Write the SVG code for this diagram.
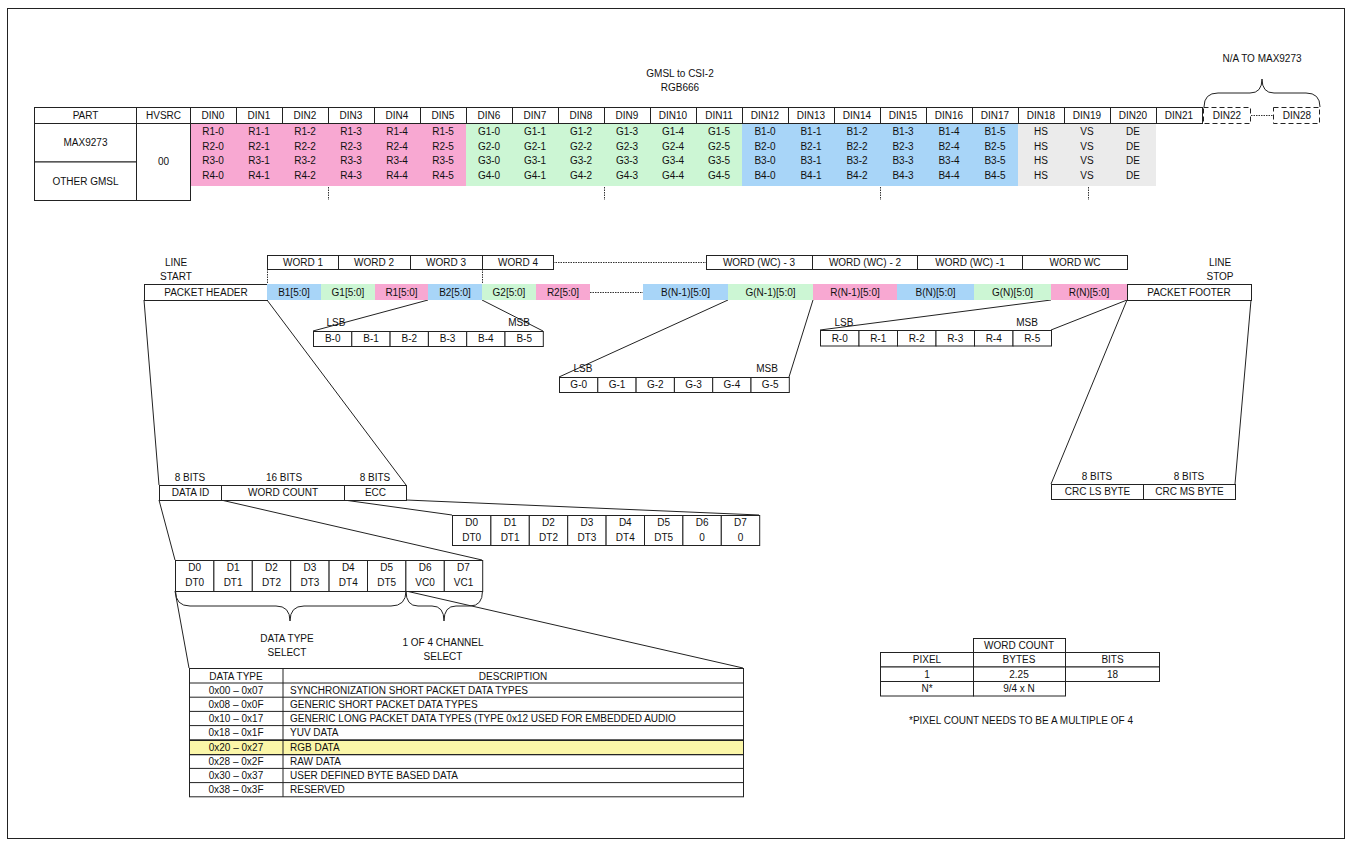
<svg xmlns="http://www.w3.org/2000/svg" width="1352" height="846" viewBox="0 0 1352 846">
<style>
text{font-family:"Liberation Sans",Arial,sans-serif;font-size:10px;fill:#111;text-anchor:middle}
.l{text-anchor:start}
.c{fill:#fff;stroke:#222;stroke-width:1}
.n{fill:none;stroke:#222;stroke-width:1}
.d{fill:none;stroke:#333;stroke-width:1;stroke-dasharray:1.5 1}
.dash{fill:#fff;stroke:#222;stroke-width:1;stroke-dasharray:5 3}
.pk{fill:#F8A8D2}.gr{fill:#CCF6D4}.bl{fill:#A8D5F8}.gy{fill:#EBEBEB}.ye{fill:#FBF6A8;stroke:#222}
</style>
<rect x="7.5" y="8.5" width="1337" height="830" class="n"/>

<g id="title">
<text x="680" y="76.6">GMSL to CSI-2</text>
<text x="680" y="90.6">RGB666</text>
<text x="1262" y="61.6">N/A TO MAX9273</text>
<path class="n" d="M1204,107 Q1204,93 1218,93 L1250,93 Q1262,93 1262,79 Q1262,93 1274,93 L1306,93 Q1320,93 1320,107"/>
</g>

<g id="din-table">
<rect class="pk" x="190" y="123" width="276" height="63"/>
<rect class="gr" x="466" y="123" width="276" height="63"/>
<rect class="bl" x="742" y="123" width="276" height="63"/>
<rect class="gy" x="1018" y="123" width="138" height="63"/>
<rect class="c" x="34.5" y="107.5" width="102" height="16"/>
<rect class="c" x="136.5" y="107.5" width="54" height="16"/>
<rect class="c" x="190.5" y="107.5" width="46" height="16"/><rect class="c" x="236.5" y="107.5" width="46" height="16"/>
<rect class="c" x="282.5" y="107.5" width="46" height="16"/><rect class="c" x="328.5" y="107.5" width="46" height="16"/>
<rect class="c" x="374.5" y="107.5" width="46" height="16"/><rect class="c" x="420.5" y="107.5" width="46" height="16"/>
<rect class="c" x="466.5" y="107.5" width="46" height="16"/><rect class="c" x="512.5" y="107.5" width="46" height="16"/>
<rect class="c" x="558.5" y="107.5" width="46" height="16"/><rect class="c" x="604.5" y="107.5" width="46" height="16"/>
<rect class="c" x="650.5" y="107.5" width="46" height="16"/><rect class="c" x="696.5" y="107.5" width="46" height="16"/>
<rect class="c" x="742.5" y="107.5" width="46" height="16"/><rect class="c" x="788.5" y="107.5" width="46" height="16"/>
<rect class="c" x="834.5" y="107.5" width="46" height="16"/><rect class="c" x="880.5" y="107.5" width="46" height="16"/>
<rect class="c" x="926.5" y="107.5" width="46" height="16"/><rect class="c" x="972.5" y="107.5" width="46" height="16"/>
<rect class="c" x="1018.5" y="107.5" width="46" height="16"/><rect class="c" x="1064.5" y="107.5" width="46" height="16"/>
<rect class="c" x="1110.5" y="107.5" width="46" height="16"/><rect class="c" x="1156.5" y="107.5" width="46" height="16"/>
<rect class="dash" x="1203.5" y="107.5" width="47" height="16"/>
<rect class="dash" x="1273.5" y="107.5" width="46" height="16"/>
<path class="d" d="M1251,115.5 H1273"/>
<rect class="c" x="34.5" y="123.5" width="102" height="38.5"/>
<rect class="c" x="34.5" y="162" width="102" height="38.5"/>
<rect class="n" x="136.5" y="123.5" width="54" height="77"/>
<path class="d" d="M328.5,187 V200 M604.5,187 V200 M880.5,187 V200 M1088.5,187 V200"/>
<text x="85.5" y="118.6">PART</text><text x="163.5" y="118.6">HVSRC</text>
<text x="213" y="118.6">DIN0</text><text x="259" y="118.6">DIN1</text><text x="305" y="118.6">DIN2</text><text x="351" y="118.6">DIN3</text><text x="397" y="118.6">DIN4</text><text x="443" y="118.6">DIN5</text>
<text x="489" y="118.6">DIN6</text><text x="535" y="118.6">DIN7</text><text x="581" y="118.6">DIN8</text><text x="627" y="118.6">DIN9</text><text x="673" y="118.6">DIN10</text><text x="719" y="118.6">DIN11</text>
<text x="765" y="118.6">DIN12</text><text x="811" y="118.6">DIN13</text><text x="857" y="118.6">DIN14</text><text x="903" y="118.6">DIN15</text><text x="949" y="118.6">DIN16</text><text x="995" y="118.6">DIN17</text>
<text x="1041" y="118.6">DIN18</text><text x="1087" y="118.6">DIN19</text><text x="1133" y="118.6">DIN20</text><text x="1179" y="118.6">DIN21</text><text x="1227" y="118.6">DIN22</text><text x="1297" y="118.6">DIN28</text>
<text x="85.5" y="145.6">MAX9273</text><text x="85.5" y="184.6">OTHER GMSL</text><text x="163.5" y="164.6">00</text>
<text x="213" y="134.6">R1-0</text><text x="259" y="134.6">R1-1</text><text x="305" y="134.6">R1-2</text><text x="351" y="134.6">R1-3</text><text x="397" y="134.6">R1-4</text><text x="443" y="134.6">R1-5</text>
<text x="489" y="134.6">G1-0</text><text x="535" y="134.6">G1-1</text><text x="581" y="134.6">G1-2</text><text x="627" y="134.6">G1-3</text><text x="673" y="134.6">G1-4</text><text x="719" y="134.6">G1-5</text>
<text x="765" y="134.6">B1-0</text><text x="811" y="134.6">B1-1</text><text x="857" y="134.6">B1-2</text><text x="903" y="134.6">B1-3</text><text x="949" y="134.6">B1-4</text><text x="995" y="134.6">B1-5</text>
<text x="1041" y="134.6">HS</text><text x="1087" y="134.6">VS</text><text x="1133" y="134.6">DE</text>
<text x="213" y="149.6">R2-0</text><text x="259" y="149.6">R2-1</text><text x="305" y="149.6">R2-2</text><text x="351" y="149.6">R2-3</text><text x="397" y="149.6">R2-4</text><text x="443" y="149.6">R2-5</text>
<text x="489" y="149.6">G2-0</text><text x="535" y="149.6">G2-1</text><text x="581" y="149.6">G2-2</text><text x="627" y="149.6">G2-3</text><text x="673" y="149.6">G2-4</text><text x="719" y="149.6">G2-5</text>
<text x="765" y="149.6">B2-0</text><text x="811" y="149.6">B2-1</text><text x="857" y="149.6">B2-2</text><text x="903" y="149.6">B2-3</text><text x="949" y="149.6">B2-4</text><text x="995" y="149.6">B2-5</text>
<text x="1041" y="149.6">HS</text><text x="1087" y="149.6">VS</text><text x="1133" y="149.6">DE</text>
<text x="213" y="164.2">R3-0</text><text x="259" y="164.2">R3-1</text><text x="305" y="164.2">R3-2</text><text x="351" y="164.2">R3-3</text><text x="397" y="164.2">R3-4</text><text x="443" y="164.2">R3-5</text>
<text x="489" y="164.2">G3-0</text><text x="535" y="164.2">G3-1</text><text x="581" y="164.2">G3-2</text><text x="627" y="164.2">G3-3</text><text x="673" y="164.2">G3-4</text><text x="719" y="164.2">G3-5</text>
<text x="765" y="164.2">B3-0</text><text x="811" y="164.2">B3-1</text><text x="857" y="164.2">B3-2</text><text x="903" y="164.2">B3-3</text><text x="949" y="164.2">B3-4</text><text x="995" y="164.2">B3-5</text>
<text x="1041" y="164.2">HS</text><text x="1087" y="164.2">VS</text><text x="1133" y="164.2">DE</text>
<text x="213" y="178.6">R4-0</text><text x="259" y="178.6">R4-1</text><text x="305" y="178.6">R4-2</text><text x="351" y="178.6">R4-3</text><text x="397" y="178.6">R4-4</text><text x="443" y="178.6">R4-5</text>
<text x="489" y="178.6">G4-0</text><text x="535" y="178.6">G4-1</text><text x="581" y="178.6">G4-2</text><text x="627" y="178.6">G4-3</text><text x="673" y="178.6">G4-4</text><text x="719" y="178.6">G4-5</text>
<text x="765" y="178.6">B4-0</text><text x="811" y="178.6">B4-1</text><text x="857" y="178.6">B4-2</text><text x="903" y="178.6">B4-3</text><text x="949" y="178.6">B4-4</text><text x="995" y="178.6">B4-5</text>
<text x="1041" y="178.6">HS</text><text x="1087" y="178.6">VS</text><text x="1133" y="178.6">DE</text>
</g>

<g id="connectors">
<path class="d" d="M553,262.5 H706 M267.5,269 V284 M482.5,269 V284 M590,292.5 H643"/>
<path class="n" d="M428,300 L313,331 M482,300 L543,331"/>
<path class="n" d="M728,300 L559,377 M813,300 L789,377"/>
<path class="n" d="M1051,300 L820,330 M1127,300 L1051,330"/>
<path class="n" d="M144,300 L159,485 M267,300 L406,485"/>
<path class="n" d="M1127,300 L1051,484 M1251,300 L1235,484"/>
<path class="n" d="M344,500 L452,515 M406,500 L759,515"/>
<path class="n" d="M159,500 L175,560 M221,500 L482,560"/>
<path class="n" d="M175,591 L189,668 M406,591 L743,668"/>
</g>

<g id="words">
<rect class="c" x="267.5" y="255.5" width="71" height="14"/><text x="303" y="265.6">WORD 1</text>
<rect class="c" x="338.5" y="255.5" width="72" height="14"/><text x="374" y="265.6">WORD 2</text>
<rect class="c" x="410.5" y="255.5" width="72" height="14"/><text x="446" y="265.6">WORD 3</text>
<rect class="c" x="482.5" y="255.5" width="71" height="14"/><text x="518" y="265.6">WORD 4</text>
<rect class="c" x="706.5" y="255.5" width="106" height="14"/><text x="759" y="265.6">WORD (WC) - 3</text>
<rect class="c" x="812.5" y="255.5" width="105" height="14"/><text x="865" y="265.6">WORD (WC) - 2</text>
<rect class="c" x="917.5" y="255.5" width="105" height="14"/><text x="970" y="265.6">WORD (WC) -1</text>
<rect class="c" x="1022.5" y="255.5" width="105" height="14"/><text x="1075" y="265.6">WORD WC</text>
</g>

<g id="line-start"><text x="176" y="265.6">LINE</text><text x="176" y="279.6">START</text></g>
<g id="line-stop"><text x="1220" y="265.6">LINE</text><text x="1220" y="279.6">STOP</text></g>

<g id="packet-header"><rect class="c" x="144.5" y="284.5" width="123" height="16"/><text x="206" y="295.6">PACKET HEADER</text></g>
<g id="packet-footer"><rect class="c" x="1127.5" y="284.5" width="124" height="16"/><text x="1189" y="295.6">PACKET FOOTER</text></g>

<g id="pixels">
<rect class="bl" x="267" y="284" width="54" height="16"/><text x="294" y="295.6">B1[5:0]</text>
<rect class="gr" x="321" y="284" width="54" height="16"/><text x="348" y="295.6">G1[5:0]</text>
<rect class="pk" x="375" y="284" width="53" height="16"/><text x="401.5" y="295.6">R1[5:0]</text>
<rect class="bl" x="428" y="284" width="54" height="16"/><text x="455" y="295.6">B2[5:0]</text>
<rect class="gr" x="482" y="284" width="54" height="16"/><text x="509" y="295.6">G2[5:0]</text>
<rect class="pk" x="536" y="284" width="54" height="16"/><text x="563" y="295.6">R2[5:0]</text>
<rect class="bl" x="643" y="284" width="85" height="16"/><text x="685.5" y="295.6">B(N-1)[5:0]</text>
<rect class="gr" x="728" y="284" width="85" height="16"/><text x="770.5" y="295.6">G(N-1)[5:0]</text>
<rect class="pk" x="813" y="284" width="84" height="16"/><text x="855" y="295.6">R(N-1)[5:0]</text>
<rect class="bl" x="897" y="284" width="77" height="16"/><text x="935.5" y="295.6">B(N)[5:0]</text>
<rect class="gr" x="974" y="284" width="77" height="16"/><text x="1012.5" y="295.6">G(N)[5:0]</text>
<rect class="pk" x="1051" y="284" width="76" height="16"/><text x="1089" y="295.6">R(N)[5:0]</text>
</g>

<g id="b-bits">
<text x="336" y="325.6">LSB</text><text x="519" y="325.6">MSB</text>
<rect class="c" x="313.5" y="331.5" width="38.3" height="15"/><text x="332.7" y="342.2">B-0</text>
<rect class="c" x="351.8" y="331.5" width="38.3" height="15"/><text x="371" y="342.2">B-1</text>
<rect class="c" x="390.1" y="331.5" width="38.3" height="15"/><text x="409.3" y="342.2">B-2</text>
<rect class="c" x="428.4" y="331.5" width="38.3" height="15"/><text x="447.6" y="342.2">B-3</text>
<rect class="c" x="466.7" y="331.5" width="38.3" height="15"/><text x="485.9" y="342.2">B-4</text>
<rect class="c" x="505" y="331.5" width="38.3" height="15"/><text x="524.2" y="342.2">B-5</text>
</g>

<g id="g-bits">
<text x="583" y="371.6">LSB</text><text x="767" y="371.6">MSB</text>
<rect class="c" x="559.5" y="377.5" width="38.3" height="15"/><text x="578.7" y="388.2">G-0</text>
<rect class="c" x="597.8" y="377.5" width="38.3" height="15"/><text x="617" y="388.2">G-1</text>
<rect class="c" x="636.1" y="377.5" width="38.3" height="15"/><text x="655.3" y="388.2">G-2</text>
<rect class="c" x="674.4" y="377.5" width="38.3" height="15"/><text x="693.6" y="388.2">G-3</text>
<rect class="c" x="712.7" y="377.5" width="38.3" height="15"/><text x="731.9" y="388.2">G-4</text>
<rect class="c" x="751" y="377.5" width="38.3" height="15"/><text x="770.2" y="388.2">G-5</text>
</g>

<g id="r-bits">
<text x="844" y="325.6">LSB</text><text x="1027" y="325.6">MSB</text>
<rect class="c" x="820.5" y="330.5" width="38.5" height="15.5"/><text x="839.7" y="341.6">R-0</text>
<rect class="c" x="859" y="330.5" width="38.5" height="15.5"/><text x="878.2" y="341.6">R-1</text>
<rect class="c" x="897.5" y="330.5" width="38.5" height="15.5"/><text x="916.7" y="341.6">R-2</text>
<rect class="c" x="936" y="330.5" width="38.5" height="15.5"/><text x="955.2" y="341.6">R-3</text>
<rect class="c" x="974.5" y="330.5" width="38.5" height="15.5"/><text x="993.7" y="341.6">R-4</text>
<rect class="c" x="1013" y="330.5" width="38.5" height="15.5"/><text x="1032.2" y="341.6">R-5</text>
</g>

<g id="header-fields">
<text x="190" y="480.6">8 BITS</text><text x="284" y="480.6">16 BITS</text><text x="375" y="480.6">8 BITS</text>
<rect class="c" x="159.5" y="485.5" width="62" height="15"/><text x="190.5" y="496">DATA ID</text>
<rect class="c" x="221.5" y="485.5" width="123" height="15"/><text x="283" y="496">WORD COUNT</text>
<rect class="c" x="344.5" y="485.5" width="62" height="15"/><text x="375.5" y="496">ECC</text>
</g>

<g id="footer-fields">
<text x="1097" y="479.6">8 BITS</text><text x="1189" y="479.6">8 BITS</text>
<rect class="c" x="1051.5" y="484.5" width="92" height="15"/><text x="1097.5" y="495">CRC LS BYTE</text>
<rect class="c" x="1143.5" y="484.5" width="92" height="15"/><text x="1189.5" y="495">CRC MS BYTE</text>
</g>

<g id="ecc-bits">
<rect class="c" x="452.5" y="515.5" width="38.4" height="30"/><text x="471.7" y="526">D0</text><text x="471.7" y="540.6">DT0</text>
<rect class="c" x="490.9" y="515.5" width="38.4" height="30"/><text x="510.1" y="526">D1</text><text x="510.1" y="540.6">DT1</text>
<rect class="c" x="529.3" y="515.5" width="38.4" height="30"/><text x="548.5" y="526">D2</text><text x="548.5" y="540.6">DT2</text>
<rect class="c" x="567.7" y="515.5" width="38.4" height="30"/><text x="586.9" y="526">D3</text><text x="586.9" y="540.6">DT3</text>
<rect class="c" x="606.1" y="515.5" width="38.4" height="30"/><text x="625.3" y="526">D4</text><text x="625.3" y="540.6">DT4</text>
<rect class="c" x="644.5" y="515.5" width="38.4" height="30"/><text x="663.7" y="526">D5</text><text x="663.7" y="540.6">DT5</text>
<rect class="c" x="682.9" y="515.5" width="38.4" height="30"/><text x="702.1" y="526">D6</text><text x="702.1" y="540.6">0</text>
<rect class="c" x="721.3" y="515.5" width="38.4" height="30"/><text x="740.5" y="526">D7</text><text x="740.5" y="540.6">0</text>
</g>

<g id="dataid-bits">
<rect class="c" x="175.5" y="560.5" width="38.4" height="31"/><text x="194.7" y="571">D0</text><text x="194.7" y="585.6">DT0</text>
<rect class="c" x="213.9" y="560.5" width="38.4" height="31"/><text x="233.1" y="571">D1</text><text x="233.1" y="585.6">DT1</text>
<rect class="c" x="252.3" y="560.5" width="38.4" height="31"/><text x="271.5" y="571">D2</text><text x="271.5" y="585.6">DT2</text>
<rect class="c" x="290.7" y="560.5" width="38.4" height="31"/><text x="309.9" y="571">D3</text><text x="309.9" y="585.6">DT3</text>
<rect class="c" x="329.1" y="560.5" width="38.4" height="31"/><text x="348.3" y="571">D4</text><text x="348.3" y="585.6">DT4</text>
<rect class="c" x="367.5" y="560.5" width="38.4" height="31"/><text x="386.7" y="571">D5</text><text x="386.7" y="585.6">DT5</text>
<rect class="c" x="405.9" y="560.5" width="38.4" height="31"/><text x="425.1" y="571">D6</text><text x="425.1" y="585.6">VC0</text>
<rect class="c" x="444.3" y="560.5" width="38.4" height="31"/><text x="463.5" y="571">D7</text><text x="463.5" y="585.6">VC1</text>
<path class="n" d="M175.5,591 Q175.5,606 190,606 L276,606 Q290,606 290,621 Q290,606 304,606 L391,606 Q406,606 406,591"/>
<path class="n" d="M406,591 Q406,606 418,606 L432,606 Q444,606 444,621 Q444,606 456,606 L470,606 Q482.5,606 482.5,591"/>
<text x="287" y="641.6">DATA TYPE</text><text x="287" y="655.6">SELECT</text>
<text x="443" y="645.6">1 OF 4 CHANNEL</text><text x="443" y="659.6">SELECT</text>
</g>

<g id="datatype-table">
<rect class="ye" x="189.5" y="740.5" width="554" height="14.2"/>
<rect class="n" x="189.5" y="668.5" width="554" height="128.3"/>
<path class="n" d="M283,668.5 V796.8 M189.5,683 H743.5 M189.5,697.2 H743.5 M189.5,711.4 H743.5 M189.5,725.6 H743.5 M189.5,739.8 H743.5 M189.5,754.6 H743.5 M189.5,768.4 H743.5 M189.5,782.6 H743.5"/>
<text x="236" y="679.6">DATA TYPE</text><text x="513" y="679.6">DESCRIPTION</text>
<text x="236" y="693.8">0x00 – 0x07</text><text class="l" x="290" y="693.8">SYNCHRONIZATION SHORT PACKET DATA TYPES</text>
<text x="236" y="708">0x08 – 0x0F</text><text class="l" x="290" y="708">GENERIC SHORT PACKET DATA TYPES</text>
<text x="236" y="722.2">0x10 – 0x17</text><text class="l" x="290" y="722.2">GENERIC LONG PACKET DATA TYPES (TYPE 0x12 USED FOR EMBEDDED AUDIO</text>
<text x="236" y="736.4">0x18 – 0x1F</text><text class="l" x="290" y="736.4">YUV DATA</text>
<text x="236" y="750.8">0x20 – 0x27</text><text class="l" x="290" y="750.8">RGB DATA</text>
<text x="236" y="765">0x28 – 0x2F</text><text class="l" x="290" y="765">RAW DATA</text>
<text x="236" y="779.2">0x30 – 0x37</text><text class="l" x="290" y="779.2">USER DEFINED BYTE BASED DATA</text>
<text x="236" y="793.4">0x38 – 0x3F</text><text class="l" x="290" y="793.4">RESERVED</text>
</g>

<g id="wordcount-table">
<rect class="c" x="973.5" y="638.5" width="92" height="14"/><text x="1019" y="648.6">WORD COUNT</text>
<rect class="c" x="880.5" y="652.5" width="93" height="14.5"/><text x="927" y="663">PIXEL</text>
<rect class="c" x="973.5" y="652.5" width="92" height="14.5"/><text x="1019" y="663">BYTES</text>
<rect class="c" x="1065.5" y="652.5" width="94" height="14.5"/><text x="1112.5" y="663">BITS</text>
<rect class="c" x="880.5" y="667" width="93" height="14.5"/><text x="927" y="677.6">1</text>
<rect class="c" x="973.5" y="667" width="92" height="14.5"/><text x="1019" y="677.6">2.25</text>
<rect class="c" x="1065.5" y="667" width="94" height="14.5"/><text x="1112.5" y="677.6">18</text>
<rect class="c" x="880.5" y="681.5" width="93" height="14.5"/><text x="927" y="692">N*</text>
<rect class="c" x="973.5" y="681.5" width="92" height="14.5"/><text x="1019" y="692">9/4 x N</text>
<text x="1021" y="723.6">*PIXEL COUNT NEEDS TO BE A MULTIPLE OF 4</text>
</g>
</svg>
